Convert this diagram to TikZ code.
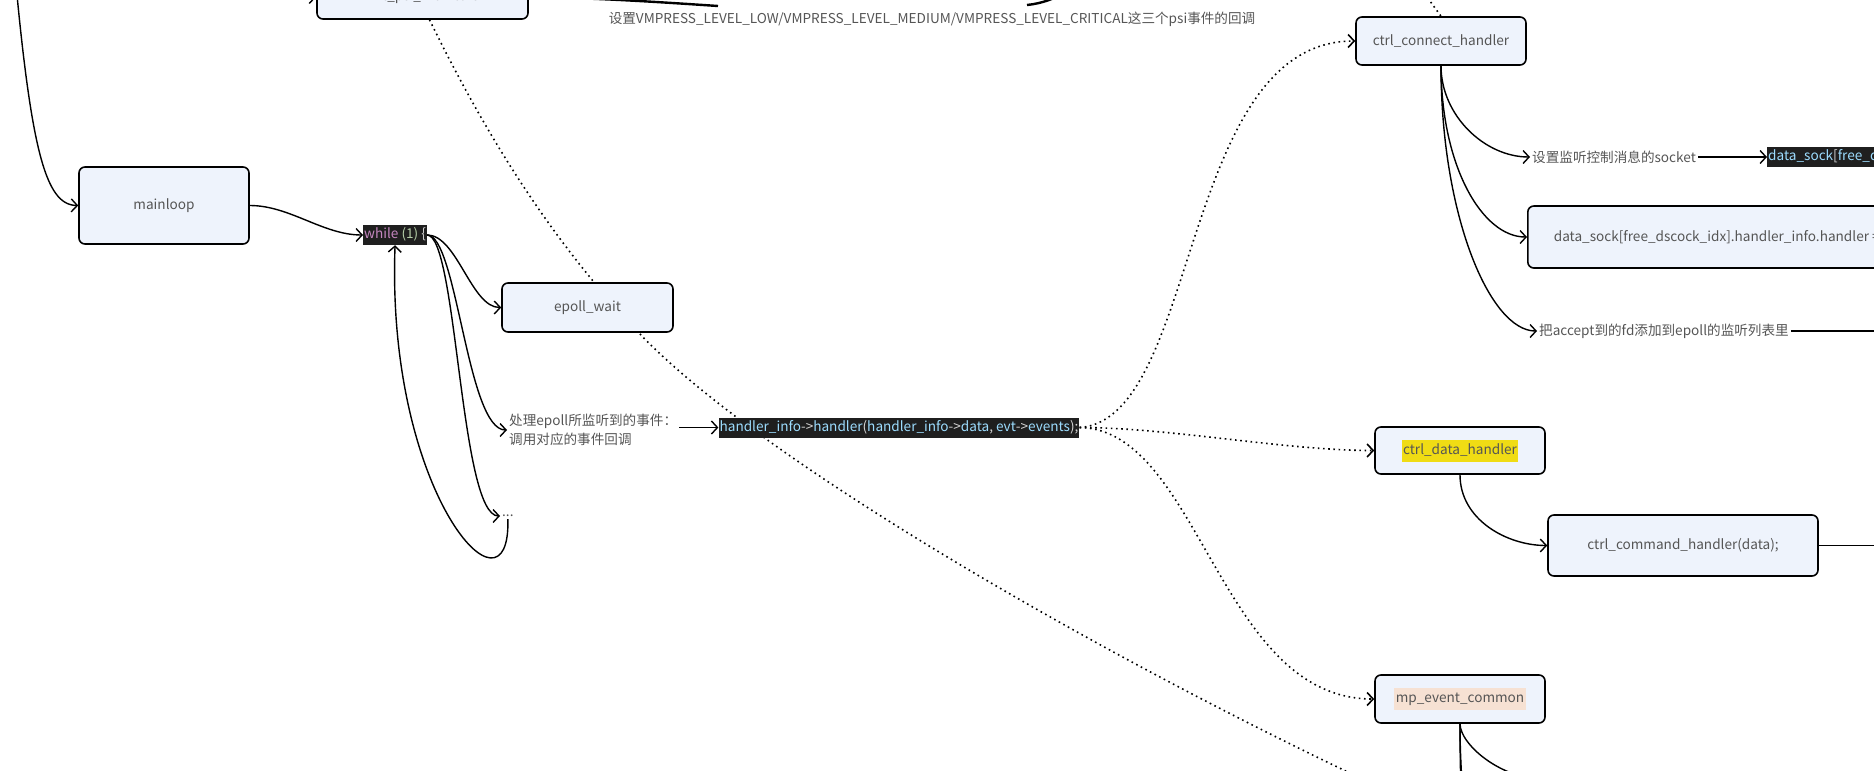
\documentclass[tikz,border=0pt]{standalone}
\usepackage{fontspec}
\setmainfont{Noto Sans CJK SC}
\usetikzlibrary{arrows.meta,positioning,calc}
\definecolor{Ice}{HTML}{EEF3FC}
\definecolor{Ink}{HTML}{555555}
\definecolor{CodeBg}{HTML}{1F1F1F}
\definecolor{CodeBlue}{HTML}{9CDCFE}
\definecolor{CodePunct}{HTML}{D4D4D4}
\definecolor{Keyword}{HTML}{C586C0}
\definecolor{Number}{HTML}{B5CEA8}
\definecolor{Marker}{HTML}{F0DC14}
\definecolor{Peach}{HTML}{F6E1D3}
\newcommand{\mapfont}{\fontsize{13.6}{19}\selectfont}
\newcommand{\tok}[1]{\textcolor{CodePunct}{#1}}
\newcommand{\marker}[2]{{\setlength{\fboxsep}{1.5pt}\colorbox{#1}{\strut #2}}}

\begin{document}
\begin{tikzpicture}[
    x=1pt, y=-1pt,
    topic/.style={draw=black, line width=1.6pt, rounded corners=6pt, fill=Ice, text=Ink, font=\mapfont, minimum width=170pt, minimum height=48pt, align=center},
    code/.style={fill=CodeBg, text=CodeBlue, font=\mapfont, inner xsep=1pt, inner ysep=2.5pt, text height=11pt, text depth=4pt},
    note/.style={text=Ink, font=\mapfont, inner sep=2pt, align=left},
    arrow/.style={-{Straight Barb[length=6pt,width=13pt]}, line width=1.4pt},
    branch/.style={line width=2.4pt},
    relation/.style={-{Straight Barb[length=6pt,width=13pt]}, line width=1.6pt, dash pattern=on 1.6pt off 3.6pt},
    dotline/.style={line width=1.6pt, dash pattern=on 1.6pt off 3.6pt},
]
    \useasboundingbox (0,0) rectangle (1874,771);
    \clip (0,0) rectangle (1874,771);

    % parent topic above the view
    \coordinate (root) at (12,-60);
    \node[topic, minimum width=211pt, minimum height=44pt] (psi) at (422.5,-3) {init\_psi\_monitors};
    \node[note] (vmpress) at (932,19) {设置VMPRESS\_LEVEL\_LOW/VMPRESS\_LEVEL\_MEDIUM/VMPRESS\_LEVEL\_CRITICAL这三个psi事件的回调};

    % relation line runs behind epoll_wait
    \coordinate (farend) at (1521,850);
    \draw[dotline] ([xshift=7pt]psi.south) .. controls (479,121) and (544,233) .. (639,333)
        .. controls (781,483) and (1233,730) .. (farend);

    \node[topic, minimum height=77pt] (mainloop) at (164,205.5) {mainloop};
    \node[code, anchor=west] (while) at (363,235) {\textcolor{Keyword}{while} \textcolor{Number}{(1)} \tok{\{}};
    \node[topic, minimum width=171pt, minimum height=49pt] (epoll) at (587.5,307.5) {epoll\_wait};
    \node[note, anchor=west] (dispatch) at (507,430) {处理epoll所监听到的事件：\\调用对应的事件回调};
    \node[note, anchor=west] (dots) at (500,516) {...};
    \node[code] (handler) at (899,427.5) {handler\_info\tok{->}handler\tok{(}handler\_info\tok{->}data\tok{, }evt\tok{->}events\tok{);}};

    \node[topic] (connect) at (1441,41) {ctrl\_connect\_handler};
    \node[note, anchor=west] (listen) at (1530,157) {设置监听控制消息的socket};
    \node[code, anchor=west] (accept) at (1767,157) {data\_sock\tok{[}free\_dscock\_idx\tok{]}.sock \tok{=} accept\tok{(}ctrl\_sock.sock\tok{, }NULL\tok{, }NULL\tok{);}};
    \node[topic, anchor=west, minimum height=62pt, inner xsep=26pt] (assign) at (1527,237) {data\_sock[free\_dscock\_idx].handler\_info.handler = ctrl\_data\_handler;};
    \node[note, anchor=west] (addfd) at (1537,331) {把accept到的fd添加到epoll的监听列表里};
    \node[topic, minimum height=47pt] (data) at (1460,450.5) {\marker{Marker}{ctrl\_data\_handler}};
    \node[topic, minimum width=270pt, minimum height=61pt] (command) at (1683,545.5) {ctrl\_command\_handler(data);};
    \node[topic] (mpevent) at (1460,699) {\marker{Peach}{mp\_event\_common}};

    % free ends outside the view
    \coordinate (psicut) at (718,6);
    \coordinate (vmlow) at (1027,5);
    \coordinate (vmhigh) at (1110,-40);
    \coordinate (above) at (1400,-40);
    \coordinate (addfdnext) at (1950,331);
    \coordinate (commandnext) at (1950,545.5);

    \draw[arrow] (root) .. controls (30,150) and (45,205) .. (mainloop.west);
    \draw[arrow] (root) .. controls +(20,0) and +(-60,0) .. (psi.west);
    \draw[branch] (psi.east) .. controls +(70,1) and +(-60,-4) .. (psicut);
    \draw[branch] (vmlow) .. controls +(30,-3) and +(-30,25) .. (vmhigh);

    \draw[arrow] (mainloop.east) .. controls +(40,0) and +(-40,0) .. (while.west);
    \draw[arrow] (while.east) .. controls +(30,0) and +(-30,0) .. (epoll.west);
    \draw[arrow] (while.east) .. controls +(30,0) and +(-40,0) .. (dispatch.west);
    \draw[arrow] (while.east) .. controls +(30,0) and +(-40,0) .. (dots.west);
    \draw[arrow] (dots.south) .. controls +(3,110) and +(-9,250) .. (while.south);
    \draw[arrow] (dispatch.east |- handler.west) -- (handler.west);

    \draw[relation] (handler.east) .. controls +(120,-8) and +(-175,0) .. (connect.west);
    \draw[relation] (handler.east) .. controls +(90,0) and +(-90,0) .. (data.west);
    \draw[relation] (handler.east) .. controls +(120,2) and +(-155,0) .. (mpevent.west);
    \draw[dotline] (above) -- (connect.north);

    \draw[arrow] (connect.south) .. controls +(0,50) and +(-45,0) .. (listen.west);
    \draw[arrow] (connect.south) .. controls +(0,100) and +(-45,0) .. (assign.west);
    \draw[arrow] (connect.south) .. controls +(0,150) and +(-47,0) .. (addfd.west);
    \draw[arrow] (listen.east) -- (accept.west);
    \draw[arrow] (addfd.east) -- (addfdnext);

    \draw[arrow] (data.south) .. controls +(0,45) and +(-40,0) .. (command.west);
    \draw[arrow] (command.east) -- (commandnext);

    % children of mp_event_common below the view
    \foreach \y/\d in {780/20, 1000/150, 1150/250}
        \draw[arrow] (mpevent.south) .. controls +(0,\d) and +(-50,0) .. (1550,\y);
\end{tikzpicture}
\end{document}
